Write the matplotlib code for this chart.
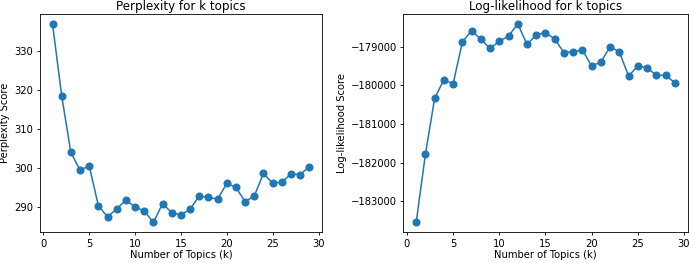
import numpy as np
import matplotlib
matplotlib.use('Agg')
import matplotlib.pyplot as plt

# number of topics
topics = list(range(1, 30))

perplexity = [337.0, 318.5, 304.0, 299.4, 300.5, 290.3, 287.4, 289.5, 291.7, 290.0,
              288.9, 286.0, 290.8, 288.5, 287.9, 289.4, 292.8, 292.4, 292.0, 296.0,
              295.0, 291.3, 292.8, 298.6, 296.0, 296.4, 298.4, 298.3, 300.3]

log_likelihood = [-183555, -181783, -180330, -179853, -179957, -178870, -178575, -178800,
                  -179035, -178853, -178714, -178402, -178931, -178688, -178627, -178792,
                  -179147, -179121, -179078, -179494, -179390, -178991, -179130, -179754,
                  -179494, -179538, -179737, -179737, -179928]

plt.rcParams['font.size'] = 7.2

fig = plt.figure(figsize=(6.89, 2.63), dpi=100)
ax1 = fig.add_axes([0.0576, 0.1167, 0.410, 0.830])
ax2 = fig.add_axes([0.5853, 0.1167, 0.4128, 0.830])

for ax in (ax1, ax2):
    for sp in ax.spines.values():
        sp.set_linewidth(0.6)
    ax.tick_params(width=0.6, length=2.5, pad=2)

ax1.plot(topics, perplexity, marker='o', markersize=4.8, linewidth=1.1)
ax1.set_title('Perplexity for k topics', fontsize=8.6, pad=3)
ax1.set_xlabel('Number of Topics (k)', labelpad=1)
ax1.set_ylabel('Perplexity Score', labelpad=3)

ax2.plot(topics, log_likelihood, marker='o', markersize=4.8, linewidth=1.1)
ax2.set_title('Log-likelihood for k topics', fontsize=8.6, pad=3)
ax2.set_xlabel('Number of Topics (k)', labelpad=1)
ax2.set_ylabel('Log-likelihood Score', labelpad=3)

fig.savefig('out.png', dpi=100)
